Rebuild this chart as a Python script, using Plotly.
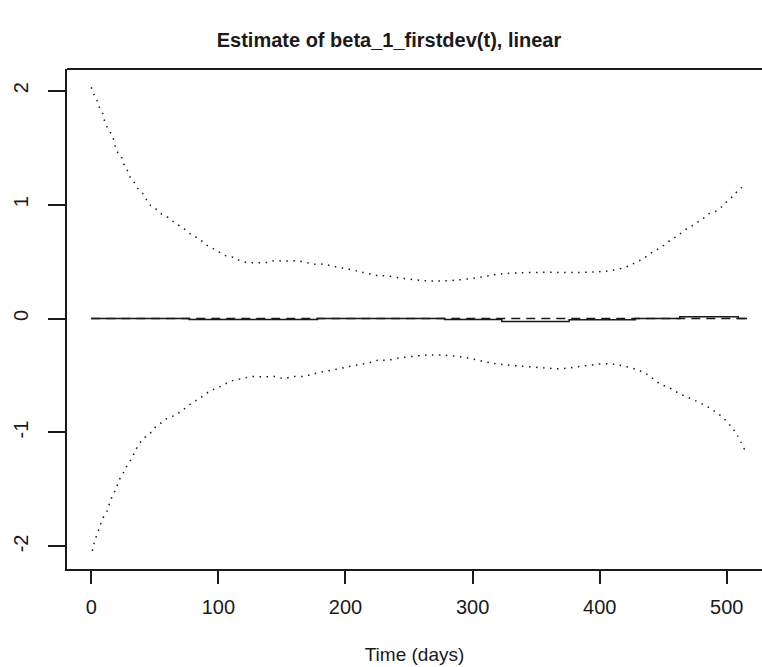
import plotly.graph_objects as go

# ---- data ----
upper_x = [0, 2, 4, 5.5, 8.7, 10, 12, 17, 20, 23.4, 25, 28, 30, 33, 36, 40, 43, 46, 51, 55.6,
           60.6, 65.6, 70, 75, 80, 85, 90, 95, 101, 106, 112.5, 117.5, 124, 130, 136.7, 143,
           150, 156, 163, 169.5, 176, 182.5, 189, 195.7, 202, 209, 214, 220, 226, 232.5,
           243, 255, 265, 274, 285, 298, 310, 321, 335, 353, 370, 385, 398, 408, 420,
           428, 434.8, 440.4, 446.7, 451.6, 456.6, 461.4, 466, 471, 476, 480.7, 485.4, 492,
           496.8, 500.4, 505, 508.6, 513.3]
upper_y = [2.03, 1.97, 1.93, 1.87, 1.81, 1.75, 1.69, 1.59, 1.47, 1.43, 1.37, 1.31, 1.25, 1.21,
           1.15, 1.105, 1.05, 1.00, 0.96, 0.915, 0.886, 0.84, 0.81, 0.77, 0.725, 0.70, 0.65,
           0.62, 0.58, 0.55, 0.535, 0.506, 0.49, 0.49, 0.49, 0.506, 0.506, 0.506, 0.506, 0.49,
           0.477, 0.477, 0.462, 0.447, 0.433, 0.418, 0.404, 0.39, 0.375, 0.375,
           0.355, 0.34, 0.33, 0.33, 0.335, 0.35, 0.37, 0.39, 0.40, 0.405, 0.405, 0.405, 0.41,
           0.42, 0.45, 0.49, 0.53, 0.574, 0.617, 0.653, 0.696, 0.725, 0.77, 0.80, 0.84, 0.87,
           0.916, 0.945, 0.99, 1.03, 1.076, 1.12, 1.164]

lower_x = [0.8, 2, 3.7, 5.5, 7, 8.7, 12, 13.7, 15.3, 18.4, 20, 21.8, 25, 26.5, 30, 33, 34.6,
           37.8, 41, 46, 49, 54, 59, 65.6, 70, 75, 80, 85, 90, 95, 101, 106, 112.5, 119,
           125.6, 132, 138.8, 145, 151.6, 158, 164.7, 171, 176, 182, 189, 195.4, 201.7, 208,
           214.6, 220, 226, 232.5, 243, 255, 265, 274, 286, 298, 310, 321, 335, 353, 369,
           385, 400, 410, 420, 432, 440, 447, 455, 463, 471, 479, 487, 495, 502, 508, 514]
lower_y = [-2.04, -1.98, -1.92, -1.865, -1.82, -1.76, -1.70, -1.646, -1.59, -1.52, -1.48,
           -1.42, -1.36, -1.32, -1.26, -1.20, -1.16, -1.10, -1.055, -1.01, -0.967, -0.924,
           -0.88, -0.85, -0.82, -0.777, -0.733, -0.704, -0.66, -0.628, -0.60, -0.57, -0.54,
           -0.526, -0.51, -0.51, -0.51, -0.51, -0.526, -0.51, -0.51, -0.497, -0.482, -0.467,
           -0.453, -0.439, -0.424, -0.409, -0.397, -0.383, -0.365, -0.365,
           -0.345, -0.33, -0.32, -0.32, -0.33, -0.35, -0.38, -0.40, -0.415, -0.43, -0.44,
           -0.42, -0.40, -0.40, -0.42, -0.46, -0.51, -0.57, -0.61, -0.66, -0.70, -0.74,
           -0.79, -0.85, -0.93, -1.02, -1.15]

est_x = [0, 77, 178, 278, 323, 376, 428, 463, 509, 516]
est_y = [0.0, -0.008, 0.0, -0.008, -0.025, -0.01, 0.0, 0.016, 0.0, 0.0]

true_x = [0, 516]
true_y = [0.0, 0.0]

x_ticks = [0, 100, 200, 300, 400, 500]
y_ticks = [-2, -1, 0, 1, 2]

title_text = "Estimate of beta_1_firstdev(t), linear"
x_label = "Time (days)"

FONT = "Liberation Sans, Arial, sans-serif"
INK = "#1a1a1a"

fig = go.Figure()
fig.add_trace(go.Scatter(x=upper_x, y=upper_y, mode="lines",
                         line=dict(color=INK, width=1.5, dash="1.5px,5.5px"),
                         line_shape="spline", showlegend=False))
fig.add_trace(go.Scatter(x=lower_x, y=lower_y, mode="lines",
                         line=dict(color=INK, width=1.5, dash="1.5px,5.5px"),
                         line_shape="spline", showlegend=False))
fig.add_trace(go.Scatter(x=true_x, y=true_y, mode="lines",
                         line=dict(color=INK, width=1.5, dash="9px,6px"),
                         showlegend=False))
fig.add_trace(go.Scatter(x=est_x, y=est_y, mode="lines",
                         line=dict(color=INK, width=1.5, shape="hv"),
                         showlegend=False))

fig.update_layout(
    width=762, height=667,
    margin=dict(l=67, r=0, t=69, b=98),
    paper_bgcolor="white", plot_bgcolor="white",
    font=dict(family=FONT, size=20, color=INK),
    title=dict(text="<b>" + title_text + "</b>", x=389 / 762, xanchor="center",
               y=1 - 40 / 667, yanchor="middle",
               font=dict(family=FONT, size=20, color=INK)),
    xaxis=dict(range=[-19.1, 527.7], tickvals=x_ticks, ticktext=[str(v) for v in x_ticks],
               showgrid=False, zeroline=False, showline=True, linecolor=INK, linewidth=1.8,
               ticks="outside", ticklen=13, tickwidth=1.8, tickcolor=INK,
               ticklabelstandoff=6, tickfont=dict(size=20),
               title=dict(text=x_label, font=dict(size=19), standoff=31)),
    yaxis=dict(range=[-2.198, 2.19], tickvals=y_ticks, ticktext=[str(v) for v in y_ticks],
               showgrid=False, zeroline=False, showline=True, linecolor=INK, linewidth=1.8,
               ticks="outside", ticklen=17, tickwidth=1.8, tickcolor=INK, tickangle=-90,
               ticklabelstandoff=12, tickfont=dict(size=20)),
    shapes=[dict(type="line", xref="paper", yref="paper", x0=0, x1=1, y0=1, y1=1,
                 line=dict(color=INK, width=1.8))],
)

fig.write_html("out.html")
